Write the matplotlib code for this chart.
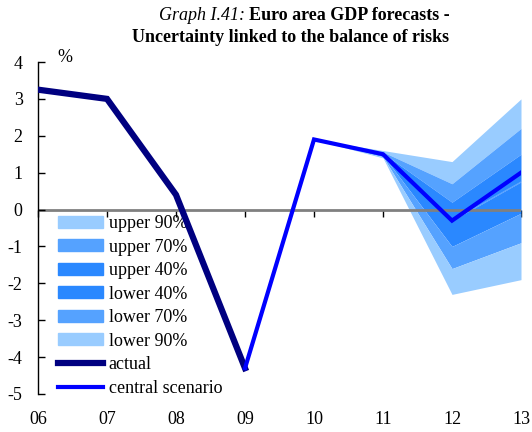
import matplotlib
matplotlib.use("Agg")
import matplotlib.pyplot as plt
from matplotlib.patches import Patch
from matplotlib.lines import Line2D

plt.rcParams['font.family'] = ['Liberation Serif', 'DejaVu Serif']

# Data
years = [6, 7, 8, 9, 10, 11, 12, 13]
year_labels = ['06', '07', '08', '09', '10', '11', '12', '13']

actual_x = [6, 7, 8, 9]
actual = [3.25, 3.0, 0.4, -4.3]

central_x = [9, 10, 11, 12, 13]
central = [-4.3, 1.9, 1.5, -0.3, 1.0]

fan_x = [10, 11, 12, 13]
upper90 = [1.9, 1.6, 1.3, 3.0]
upper70 = [1.9, 1.56, 0.7, 2.2]
upper40 = [1.9, 1.53, 0.2, 1.5]
middle = [1.9, 1.5, -0.3, 0.75]
lower40 = [1.9, 1.47, -1.0, -0.1]
lower70 = [1.9, 1.43, -1.6, -0.9]
lower90 = [1.9, 1.4, -2.3, -1.9]

c90, c70, c40 = '#99CCFF', '#55A2FF', '#2A88FF'
c_actual, c_central = '#000080', '#0000FF'

W, H = 532, 432
fig = plt.figure(figsize=(W/100, H/100), dpi=100)
ax = fig.add_axes([38/W, 1-394/H, (521-38)/W, (394-62)/H])

# Fan chart bands
ax.fill_between(fan_x, upper70, upper90, color=c90, lw=0, zorder=1)
ax.fill_between(fan_x, upper40, upper70, color=c70, lw=0, zorder=1)
ax.fill_between(fan_x, middle, upper40, color=c40, lw=0, zorder=1)
ax.fill_between(fan_x, lower40, middle, color=c40, lw=0, zorder=1)
ax.fill_between(fan_x, lower70, lower40, color=c70, lw=0, zorder=1)
ax.fill_between(fan_x, lower90, lower70, color=c90, lw=0, zorder=1)
ax.plot(fan_x, middle, color='#66AAFF', lw=0.6, zorder=1.1)

# Zero line
ax.axhline(0, color='#808080', lw=2, zorder=1.5)

ax.plot(actual_x, actual, color=c_actual, lw=4.5, solid_joinstyle='miter', zorder=3)
ax.plot(central_x, central, color=c_central, lw=3, solid_joinstyle='miter', zorder=4)

ax.set_xlim(6, 13)
ax.set_ylim(-5, 4)
ax.set_yticks(range(-5, 5))
ax.set_yticklabels([str(v) for v in range(-5, 5)])
ax.set_xticks(years)
ax.set_xticklabels(year_labels)

for s in ['top', 'right', 'bottom']:
    ax.spines[s].set_visible(False)
ax.spines['left'].set_linewidth(1.0)
ax.tick_params(axis='y', direction='in', length=5, width=1, pad=11, labelsize=13)
ax.tick_params(axis='x', length=0, pad=12, labelsize=13)

# Tick marks along the zero line
sec = ax.secondary_xaxis(5/9)
sec.set_xticks(years)
sec.tick_params(axis='x', direction='in', length=5, width=1, labelbottom=False, labeltop=False)
sec.spines['bottom'].set_visible(False)
sec.spines['top'].set_visible(False)

fig.text(65/W, 1-58/H, '%', fontsize=13, ha='center', va='center')

handles = [
    Patch(color=c90, label='upper 90%'),
    Patch(color=c70, label='upper 70%'),
    Patch(color=c40, label='upper 40%'),
    Patch(color=c40, label='lower 40%'),
    Patch(color=c70, label='lower 70%'),
    Patch(color=c90, label='lower 90%'),
    Line2D([], [], color=c_actual, lw=4.5, label='actual'),
    Line2D([], [], color=c_central, lw=3, label='central scenario'),
]
leg = ax.legend(handles=handles, loc='upper left', bbox_to_anchor=(0.027, 0.56),
                frameon=False, fontsize=13, handlelength=2.5, handleheight=0.65,
                handletextpad=0.3, labelspacing=0.36, borderaxespad=0)
leg.set_zorder(2)

fig.text(245/W, 1-15/H, 'Graph I.41:', style='italic', fontsize=13,
         ha='right', va='center')
fig.text(249/W, 1-15/H, 'Euro area GDP forecasts -', weight='bold', fontsize=13,
         ha='left', va='center')
fig.text(291/W, 1-38/H, 'Uncertainty linked to the balance of risks', weight='bold',
         fontsize=13, ha='center', va='center')

fig.savefig('out.png', dpi=100)
